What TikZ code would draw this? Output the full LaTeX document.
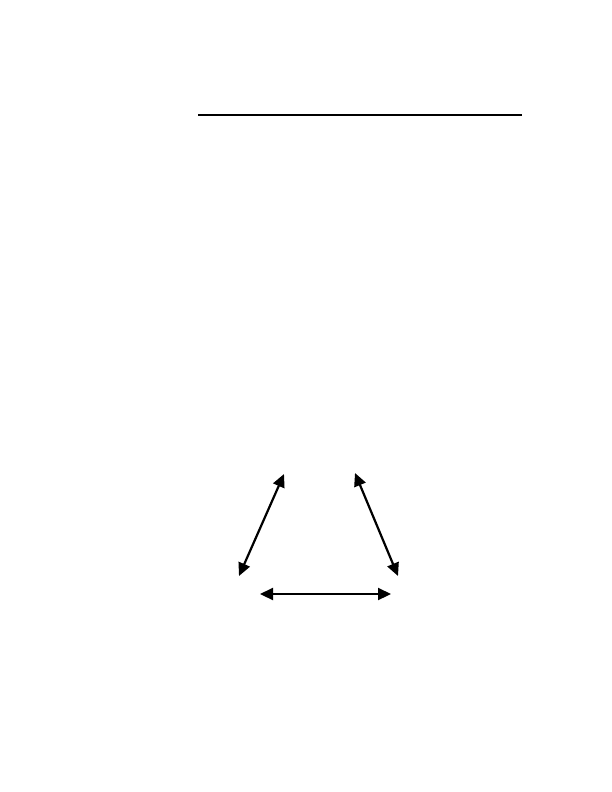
\documentclass[tikz,border=0pt]{standalone}
\usepackage{tikz}
\usetikzlibrary{arrows.meta}

\begin{document}
\begin{tikzpicture}[
  x=1pt, y=-1pt,
  rule/.style={line width=1.3pt},
  arrow/.style={{Triangle[length=13pt, width=12pt]}-{Triangle[length=13pt, width=12pt]}, line width=2.2pt}
]
\useasboundingbox (0,0) rectangle (612,792);

% header rule
\coordinate (ruleL) at (198,115);
\coordinate (ruleR) at (522,115);
\draw[rule] (ruleL) -- (ruleR);

% ends of the three arrows
\coordinate (lefttop) at (284,474);
\coordinate (leftbot) at (239,576);
\coordinate (righttop) at (355,473);
\coordinate (rightbot) at (398,576);
\coordinate (botL) at (260,594);
\coordinate (botR) at (391,594);

\draw[arrow] (leftbot) -- (lefttop);
\draw[arrow] (righttop) -- (rightbot);
\draw[arrow] (botL) -- (botR);
\end{tikzpicture}
\end{document}
